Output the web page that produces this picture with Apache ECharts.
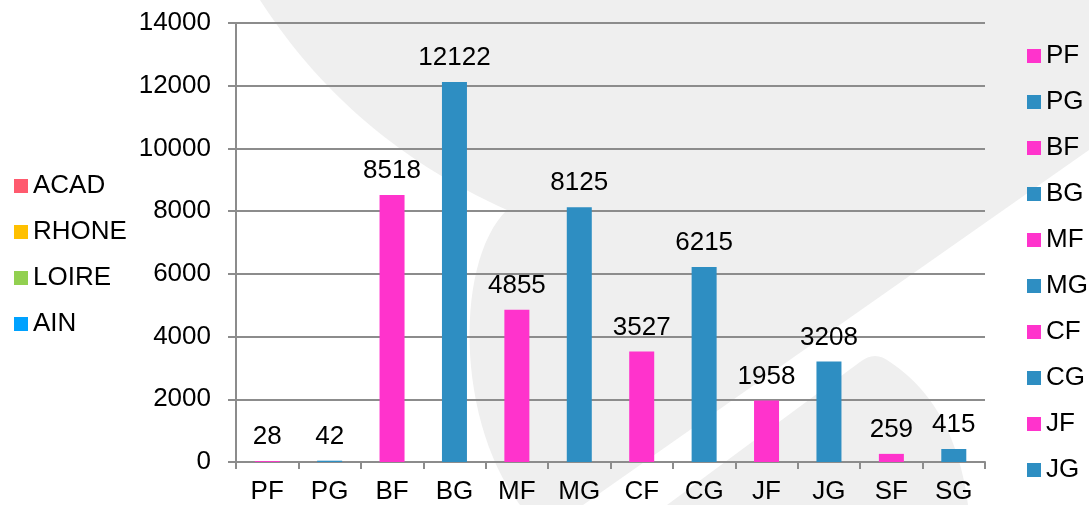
<!DOCTYPE html>
<html>
<head>
<meta charset="utf-8">
<script src="https://cdn.jsdelivr.net/npm/echarts@6/dist/echarts.min.js"></script>
<style>
  html, body { margin: 0; padding: 0; background: #fff; }
  #chart { width: 1089px; height: 505px; }
</style>
</head>
<body>
<div id="chart"></div>
<script>
// data
var categories = ['PF', 'PG', 'BF', 'BG', 'MF', 'MG', 'CF', 'CG', 'JF', 'JG', 'SF', 'SG'];
var values = [28, 42, 8518, 12122, 4855, 8125, 3527, 6215, 1958, 3208, 259, 415];
var rightLegend = ['PF', 'PG', 'BF', 'BG', 'MF', 'MG', 'CF', 'CG', 'JF', 'JG'];
var leftLegend = ['ACAD', 'RHONE', 'LOIRE', 'AIN'];
var leftColors = ['#FF5A6E', '#FFC000', '#92D050', '#00A2FF'];
var yTicks = [0, 2000, 4000, 6000, 8000, 10000, 12000, 14000];

var PINK = '#FF33CC';
var BLUE = '#2E8EC2';
var FONT = 'Liberation Sans, Arial, sans-serif';
var FS = 26;

// grey watermark behind the chart
function quad(p0, c, p2, n) {
	var pts = [];
	for (var i = 0; i <= n; i++) {
		var t = i / n, u = 1 - t;
		pts.push([u * u * p0[0] + 2 * u * t * c[0] + t * t * p2[0],
			u * u * p0[1] + 2 * u * t * c[1] + t * t * p2[1]]);
	}
	return pts;
}
function cubic(p0, c1, c2, p3, n) {
	var pts = [];
	for (var i = 0; i <= n; i++) {
		var t = i / n, u = 1 - t;
		pts.push([u * u * u * p0[0] + 3 * u * u * t * c1[0] + 3 * u * t * t * c2[0] + t * t * t * p3[0],
			u * u * u * p0[1] + 3 * u * u * t * c1[1] + 3 * u * t * t * c2[1] + t * t * t * p3[1]]);
	}
	return pts;
}
var shapeA = [].concat(
	quad([260, 0], [350, 140], [507, 210], 30),
	cubic([507, 210], [455, 260], [455, 420], [520, 505], 30),
	[[583, 505], [1089, 150], [1089, 0]]
);
var shapeB = [].concat(
	[[667, 505], [860, 362]],
	quad([860, 362], [875, 350], [890, 362], 8),
	quad([890, 362], [955, 405], [968, 505], 30)
);

var series = [];
leftLegend.forEach(function (name, i) {
	series.push({
		name: name,
		type: 'bar',
		stack: 'all',
		barWidth: 25,
		itemStyle: { color: leftColors[i] },
		data: []
	});
});
categories.forEach(function (name, i) {
	series.push({
		name: name,
		type: 'bar',
		stack: 'all',
		barWidth: 25,
		itemStyle: { color: i % 2 === 0 ? PINK : BLUE },
		label: {
			show: true,
			position: 'top',
			distance: 11,
			color: '#000',
			fontSize: FS,
			fontFamily: FONT
		},
		data: categories.map(function (c, j) { return j === i ? values[i] : '-'; })
	});
});

var chart = echarts.init(document.getElementById('chart'));
var option = {
	animation: false,
	backgroundColor: '#fff',
	textStyle: { fontFamily: FONT },
	graphic: {
		elements: [
			{ type: 'polygon', z: -10, silent: true, shape: { points: shapeA }, style: { fill: '#EFEFEF' } },
			{ type: 'polygon', z: -10, silent: true, shape: { points: shapeB }, style: { fill: '#EFEFEF' } }
		]
	},
	legend: [
		{
			data: leftLegend,
			orient: 'vertical',
			left: 9,
			top: 168,
			itemWidth: 14,
			itemHeight: 14,
			itemGap: 20,
			icon: 'rect',
			selectedMode: false,
			textStyle: { fontSize: FS, color: '#000', fontFamily: FONT }
		},
		{
			data: rightLegend,
			orient: 'vertical',
			left: 1022,
			top: 38,
			itemWidth: 14,
			itemHeight: 14,
			itemGap: 20,
			icon: 'rect',
			selectedMode: false,
			textStyle: { fontSize: FS, color: '#000', fontFamily: FONT }
		}
	],
	grid: { left: 236, right: 104, top: 23, bottom: 41 },
	xAxis: {
		type: 'category',
		data: categories,
		axisLine: { lineStyle: { color: '#8C8C8C', width: 2 } },
		axisTick: { show: true, length: 7, lineStyle: { color: '#8C8C8C', width: 2 } },
		axisLabel: { fontSize: FS, color: '#000', margin: 17, fontFamily: FONT }
	},
	yAxis: {
		type: 'value',
		min: yTicks[0],
		max: yTicks[yTicks.length - 1],
		interval: yTicks[1] - yTicks[0],
		axisLine: { show: true, lineStyle: { color: '#8C8C8C', width: 2 } },
		axisTick: { show: true, length: 8, lineStyle: { color: '#8C8C8C', width: 2 } },
		axisLabel: {
			fontSize: FS, color: '#000', margin: 25, fontFamily: FONT,
			formatter: function (v) { return String(v); }
		},
		splitLine: { lineStyle: { color: '#8C8C8C', width: 2 } }
	},
	series: series
};
chart.setOption(option);
</script>
</body>
</html>
